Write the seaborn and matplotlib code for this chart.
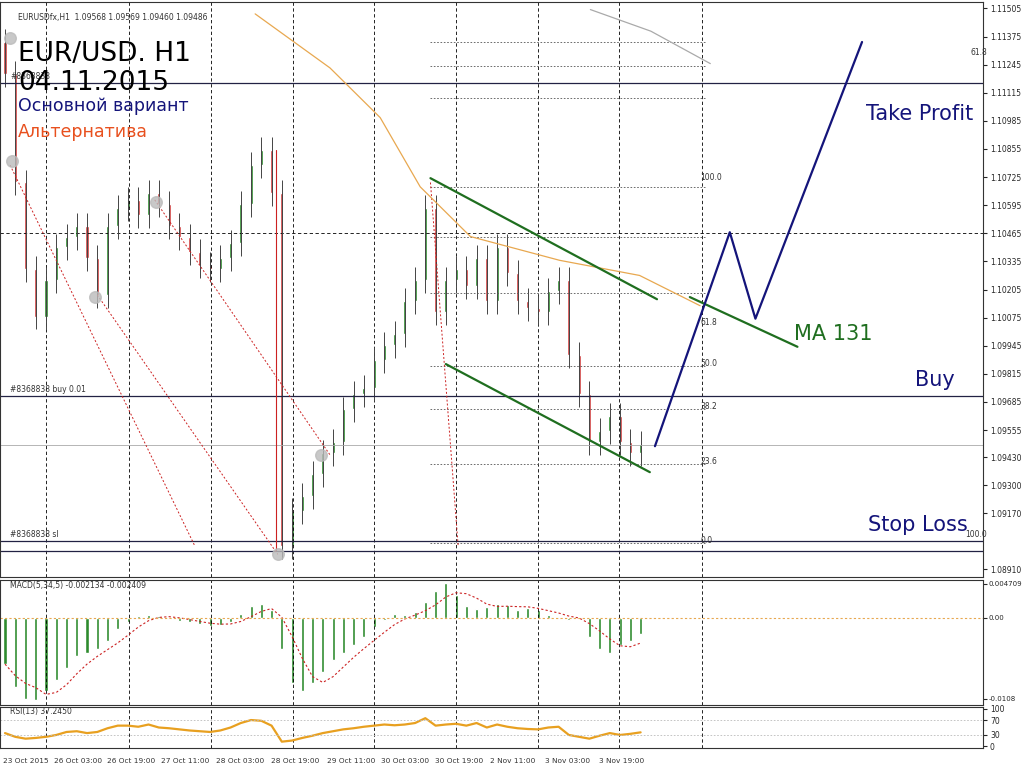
import matplotlib
matplotlib.use("Agg")
import matplotlib.pyplot as plt
import numpy as np
import pandas as pd
import seaborn as sns

# 2-hour bars, EUR/USD H1 (approximate closes)
closes = [1.1120, 1.1070, 1.1030, 1.1008, 1.1025, 1.1040, 1.1045, 1.1050, 1.1035, 1.1018,
          1.1050, 1.1058, 1.1062, 1.1055, 1.1065, 1.1060, 1.1050, 1.1045, 1.1038, 1.1032,
          1.1030, 1.1035, 1.1042, 1.1060, 1.1078, 1.1085, 1.1065, 1.0902, 1.0918, 1.0925,
          1.0935, 1.0945, 1.0950, 1.0965, 1.0972, 1.0975, 1.0988, 1.0995, 1.1000, 1.1015,
          1.1025, 1.1058, 1.1010, 1.1025, 1.1030, 1.1022, 1.1035, 1.1015, 1.1040, 1.1028,
          1.1015, 1.1012, 1.1010, 1.1020, 1.1025, 1.0990, 1.0972, 1.0950, 1.0955, 1.0962,
          1.0950, 1.0945, 1.0949]
opens = [1.1135] + closes[:-1]
macd = [-0.006, -0.009, -0.0105, -0.0107, -0.0095, -0.008, -0.0065, -0.005, -0.0045, -0.004,
        -0.003, -0.0015, -0.0005, 0.0002, 0.0003, 0.0002, -0.0001, -0.0004, -0.0006, -0.0008,
        -0.001, -0.0009, -0.0005, 0.0005, 0.0015, 0.0018, 0.001, -0.004, -0.0085, -0.0095,
        -0.0085, -0.007, -0.0055, -0.0045, -0.0035, -0.0025, -0.0012, -0.0003, 0.0005, 0.0004,
        0.0008, 0.002, 0.0035, 0.0045, 0.003, 0.0015, 0.0012, 0.0014, 0.0018, 0.0016,
        0.0010, 0.0013, 0.0010, 0.0004, -0.0002, -0.0003, 0.0, -0.0025, -0.004, -0.0045,
        -0.0035, -0.003, -0.0021]
rsi = [35, 25, 20, 22, 25, 30, 38, 40, 35, 38, 48, 55, 55, 52, 58, 50, 48, 45, 42, 40,
       38, 42, 50, 62, 70, 68, 55, 12, 15, 22, 28, 35, 40, 45, 48, 52, 55, 58, 56, 58,
       62, 75, 55, 58, 60, 55, 62, 50, 58, 52, 48, 46, 45, 50, 52, 30, 25, 20, 28, 35,
       30, 33, 37]
ma131_t = [24.4, 31.7, 36.6, 40.5, 45.4, 54.1, 61.9, 67.8]
ma131_p = [1.1148, 1.1123, 1.1100, 1.1068, 1.1045, 1.1034, 1.1027, 1.1013]
ma_gray_t = [57.1, 63, 68.8]
ma_gray_p = [1.1150, 1.1140, 1.1125]
chan_up_t, chan_up_p = [41.5, 63.6], [1.1072, 1.1016]
chan_dn_t, chan_dn_p = [43.0, 62.9], [1.0986, 1.0936]
ma_lbl_t, ma_lbl_p = [66.8, 77.3], [1.1017, 1.0994]
plan_t = [63.4, 70.7, 73.2, 83.6]
plan_p = [1.0948, 1.1047, 1.1007, 1.1135]
fib_levels = [1.1135, 1.1124, 1.1109, 1.1068, 1.1045, 1.1019, 1.0985, 1.0965, 1.0940, 1.0903]
fib_labels = {"100.0": 1.1070, "61.8": 1.1003, "50.0": 1.0984, "38.2": 1.0964, "23.6": 1.0939, "0.0": 1.0902}
price_ticks = [1.11505, 1.11375, 1.11245, 1.11115, 1.10985, 1.10855, 1.10725, 1.10595, 1.10465,
               1.10335, 1.10205, 1.10075, 1.09945, 1.09815, 1.09685, 1.09555, 1.09430, 1.09300,
               1.09170, 1.08910]
date_pos = [0, 5.0, 10.1, 15.4, 20.8, 26.1, 31.6, 36.9, 42.1, 47.5, 52.9, 58.1]
date_labels = ["23 Oct 2015", "26 Oct 03:00", "26 Oct 19:00", "27 Oct 11:00", "28 Oct 03:00",
               "28 Oct 19:00", "29 Oct 11:00", "30 Oct 03:00", "30 Oct 19:00", "2 Nov 11:00",
               "3 Nov 03:00", "3 Nov 19:00"]
grid_pos = [4.0, 12.1, 20.1, 28.1, 36.0, 44.0, 52.0, 59.9, 68.0]

sns.set_style("white")
plt.rcParams["font.family"] = ["DejaVu Sans"]
W, H = 1024, 771
fig = plt.figure(figsize=(W / 100, H / 100), dpi=100)
def ax_px(x0, y0, x1, y1):
    return fig.add_axes([x0 / W, 1 - y1 / H, (x1 - x0) / W, (y1 - y0) / H])

xl = (-0.49, 95.4)
ax = ax_px(0, 2, 983, 577)
ax_m = ax_px(0, 580, 983, 705)
ax_r = ax_px(0, 707, 983, 748)
for a in (ax, ax_m, ax_r):
    a.set_xlim(*xl)
    a.set_xticks([])
    a.yaxis.tick_right()
    a.tick_params(axis="y", labelsize=5.5, length=3, pad=2)
    for s in a.spines.values():
        s.set_color("#333333")
    for g in grid_pos:
        a.axvline(g, color="black", ls=(0, (4, 3)), lw=0.6)

df = pd.DataFrame({"t": np.arange(len(closes)), "o": opens, "c": closes})
df["hi"] = df[["o", "c"]].max(axis=1) + 0.0006
df["lo"] = df[["o", "c"]].min(axis=1) - 0.0006
ax.set_ylim(1.08875, 1.11535)
ax.set_yticks(price_ticks)
ax.set_yticklabels([f"{v:.5f}" for v in price_ticks])
ax.axhline(1.10465, color="black", ls=(0, (4, 3)), lw=0.6)
ax.vlines(df.t, df.lo, df.hi, color="#444444", lw=0.7)
up = df.c >= df.o
ax.bar(df.t[up], (df.c - df.o)[up], bottom=df.o[up], width=0.3, color="#2e8b2e")
ax.bar(df.t[~up], (df.o - df.c)[~up], bottom=df.c[~up], width=0.3, color="#d04040")

# fibonacci grid
for lv in fib_levels:
    ax.plot([41.5, 68.3], [lv, lv], color="#555555", ls=(0, (2, 2)), lw=0.6)
for k, v in fib_labels.items():
    ax.text(67.8, v + 0.0001, k, fontsize=5.5, color="#333333")
ax.text(94.2, 1.1129, "61.8", fontsize=5.5, color="#333333")
ax.text(93.7, 1.0906, "100.0", fontsize=5.5, color="#333333")

# horizontal order lines
for lv, col, lw in [(1.11158, "#222244", 0.9), (1.09714, "#222244", 0.9), (1.09043, "#222244", 0.9),
                    (1.08996, "#222244", 0.9), (1.09486, "#aaaaaa", 0.6)]:
    ax.axhline(lv, color=col, lw=lw)
ax.text(0.5, 1.0973, "#8368838 buy 0.01", fontsize=5.5, color="#333333")
ax.text(0.5, 1.0906, "#8368838 sl", fontsize=5.5, color="#333333")
ax.text(0.5, 1.1118, "#8368838", fontsize=5.5, color="#333333")

# red dotted trade history lines
for tt, pp in [([0.5, 18.5], [1.1078, 1.0902]), ([9.0, 26.6], [1.1018, 1.0898]),
               ([14.6, 31.7], [1.1062, 1.0944]), ([41.5, 44.2], [1.1070, 1.0902])]:
    ax.plot(tt, pp, color="#cc2222", ls=(0, (2, 2)), lw=0.7)
ax.plot([26.4, 26.4], [1.0900, 1.1085], color="#cc2222", lw=0.8)
for tt, pp in [(0.7, 1.1080), (8.8, 1.1017), (14.7, 1.1061), (30.8, 1.0944), (26.6, 1.0898), (0.5, 1.1137)]:
    ax.scatter(tt, pp, s=70, color="#bbbbbb", alpha=0.8, zorder=3)

ax.plot(ma131_t, ma131_p, color="#e8a850", lw=0.9)
ax.plot(ma_gray_t, ma_gray_p, color="#aaaaaa", lw=0.9)
ax.plot(chan_up_t, chan_up_p, color="#1f6e1f", lw=1.6)
ax.plot(chan_dn_t, chan_dn_p, color="#1f6e1f", lw=1.6)
ax.plot(ma_lbl_t, ma_lbl_p, color="#1f6e1f", lw=1.6)
ax.plot(plan_t, plan_p, color="#14147a", lw=1.6)

ax.text(1.3, 1.1145, "EURUSDfx,H1  1.09568 1.09569 1.09460 1.09486", fontsize=5.5, color="#333333")
ax.text(1.3, 1.1126, "EUR/USD. H1", fontsize=19, color="black")
ax.text(1.3, 1.1113, "04.11.2015", fontsize=19, color="black")
ax.text(1.3, 1.1103, "Основной вариант", fontsize=12.5, color="#14147a")
ax.text(1.3, 1.1091, "Альтернатива", fontsize=12.5, color="#e8501e")
ax.text(84, 1.1099, "Take Profit", fontsize=15, color="#14147a")
ax.text(77, 1.0997, "MA 131", fontsize=15, color="#1f6e1f")
ax.text(88.8, 1.0976, "Buy", fontsize=15, color="#14147a")
ax.text(84.2, 1.0909, "Stop Loss", fontsize=15, color="#14147a")

# MACD
t = np.arange(len(macd))
signal = pd.Series(macd).rolling(4, min_periods=1).mean()
ax_m.bar(t, macd, width=0.3, color="#2e8b2e")
ax_m.plot(t, signal, color="#cc2222", ls=(0, (2, 2)), lw=0.8)
ax_m.axhline(0, color="#e8a850", ls=(0, (2, 2)), lw=0.8)
ax_m.set_ylim(-0.0113, 0.0049)
ax_m.set_yticks([0.0044, 0.0, -0.0105])
ax_m.set_yticklabels(["0.004709", "0.00", "-0.0108"])
ax_m.tick_params(axis="y", labelsize=5, pad=1)
ax_m.text(0.5, 0.0038, "MACD(5,34,5) -0.002134 -0.002409", fontsize=5.5, color="#333333")

# RSI
ax_r.plot(np.arange(len(rsi)), rsi, color="#e8a020", lw=1.6)
for lv in (70, 30):
    ax_r.axhline(lv, color="#bbbbbb", ls=(0, (2, 2)), lw=0.6)
ax_r.set_ylim(-5, 105)
ax_r.set_yticks([100, 70, 30, 0])
ax_r.text(0.5, 85, "RSI(13) 37.2450", fontsize=5.5, color="#333333")

for p, lbl in zip(date_pos, date_labels):
    fig.text((p * 10.25 + 3) / W, 1 - 761 / H, lbl, fontsize=5.3, color="#333333", va="center")

fig.savefig("out.png", dpi=100)
